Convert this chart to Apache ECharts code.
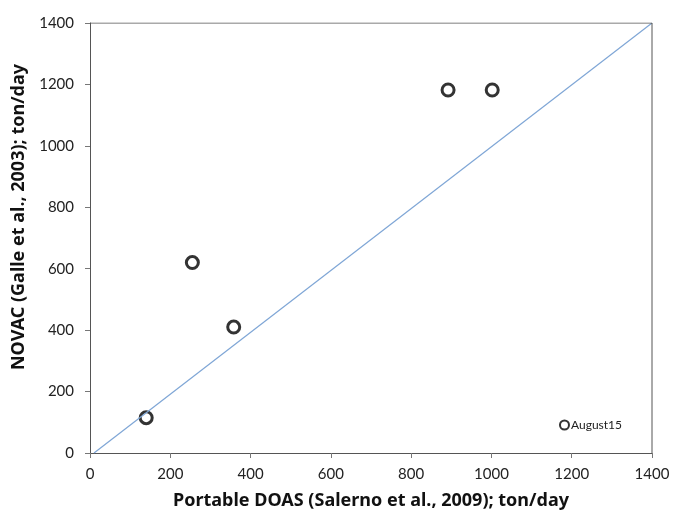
<!DOCTYPE html>
<html>
<head>
<meta charset="utf-8">
<script src="https://cdn.jsdelivr.net/npm/echarts@6/dist/echarts.min.js"></script>
<style>
  html, body { margin: 0; padding: 0; background: #fff; }
  #chart { width: 673px; height: 515px; }
</style>
</head>
<body>
<div id="chart"></div>
<script>
// data
var portableDoas = [140, 255, 358, 892, 1002];
var novac = [115, 620, 410, 1182, 1182];
var refLineX = [10, 1400];
var refLineY = [0, 1400];

var points = portableDoas.map(function (x, i) { return [x, novac[i]]; });
var refLine = refLineX.map(function (x, i) { return [x, refLineY[i]]; });

var chart = echarts.init(document.getElementById('chart'));
var font = 'Lato, "Open Sans", sans-serif';
var titleFont = '"Noto Sans", "Open Sans", sans-serif';

function plain(v) { return String(v); }

var option = {
    animation: false,
    backgroundColor: '#fff',
    grid: { left: 90, right: 21, top: 23, bottom: 61 },
    legend: {
        right: 46,
        bottom: 79,
        data: [{ name: 'August15', icon: 'circle' }],
        itemWidth: 9,
        itemHeight: 9,
        itemGap: 4,
        textStyle: { fontFamily: font, fontSize: 12, color: '#222', padding: [0, 0, 0, -3] }
    },
    xAxis: {
        type: 'value',
        min: 0, max: 1400, interval: 200,
        name: 'Portable DOAS (Salerno et al., 2009); ton/day',
        nameLocation: 'middle',
        nameGap: 39,
        nameTextStyle: { fontFamily: titleFont, fontSize: 18, fontWeight: 'bold', color: '#111' },
        axisLine: { show: true, onZero: false, lineStyle: { color: '#555', width: 1 } },
        axisTick: { show: true, length: 5, lineStyle: { color: '#777' } },
        axisLabel: { fontFamily: font, fontSize: 15, color: '#222', margin: 14, formatter: plain },
        splitLine: { show: false }
    },
    yAxis: {
        type: 'value',
        min: 0, max: 1400, interval: 200,
        name: 'NOVAC (Galle et al., 2003); ton/day',
        nameLocation: 'middle',
        nameGap: 60,
        nameTextStyle: { fontFamily: titleFont, fontSize: 18, fontWeight: 'bold', color: '#111', padding: [0, 0, 0, 42] },
        axisLine: { show: true, onZero: false, lineStyle: { color: '#555', width: 1 } },
        axisTick: { show: true, length: 5, lineStyle: { color: '#777' } },
        axisLabel: { fontFamily: font, fontSize: 15, color: '#222', margin: 16, formatter: plain },
        splitLine: { show: false }
    },
    series: [
        {
            name: '1:1',
            type: 'line',
            data: refLine,
            symbol: 'none',
            lineStyle: { color: '#7fa6d6', width: 1.2 },
            silent: true
        },
        {
            name: 'August15',
            type: 'scatter',
            data: points,
            symbol: 'circle',
            symbolSize: 12,
            itemStyle: { color: '#fff', borderColor: '#000', borderWidth: 3 }
        },
        {
            // top and right frame lines
            type: 'line',
            data: [[0, 1400], [1400, 1400], [1400, 0]],
            symbol: 'none',
            lineStyle: { color: '#555', width: 1 },
            silent: true
        }
    ]
};
option.legend.data[0].itemStyle = { color: '#fff', borderColor: '#000', borderWidth: 2 };
chart.setOption(option);
</script>
</body>
</html>
